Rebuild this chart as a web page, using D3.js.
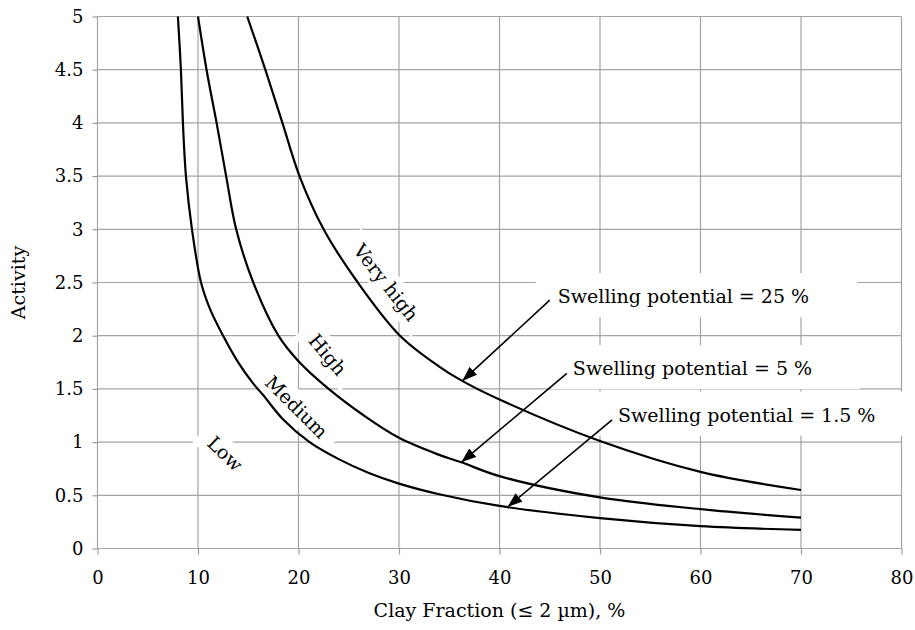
<!DOCTYPE html>
<html>
<head>
<meta charset="utf-8">
<script src="https://cdn.jsdelivr.net/npm/d3@7"></script>
<style>
  body { margin: 0; background: #fff; }
  svg text { font-family: "DejaVu Serif", serif; fill: #000; }
</style>
</head>
<body>
<div id="container"></div>
<script>
// axis ticks
const xTicks = [0, 10, 20, 30, 40, 50, 60, 70, 80];
const yTicks = [0, 0.5, 1, 1.5, 2, 2.5, 3, 3.5, 4, 4.5, 5];

// swelling potential = 1.5 % (low / medium boundary)
const clay15 = [8.0, 8.3, 8.5, 8.8, 9.4, 10.3, 11.2, 12.5, 14.0, 15.5, 16.5, 18.5, 21.1, 24.0, 27.0, 30.0, 34.0, 40.0, 50.0, 60.0, 70.0];
const act15 = [5.0, 4.5, 4.0, 3.5, 3.0, 2.5, 2.25, 2.0, 1.75, 1.55, 1.44, 1.21, 1.0, 0.84, 0.71, 0.61, 0.51, 0.40, 0.285, 0.21, 0.175];

// swelling potential = 5 % (medium / high boundary)
const clay5 = [10.0, 10.85, 11.85, 12.8, 13.8, 15.5, 18.0, 20.0, 23.0, 26.5, 30.0, 34.0, 36.2, 40.0, 50.0, 60.0, 70.0];
const act5 = [5.0, 4.5, 4.0, 3.5, 3.0, 2.5, 2.0, 1.76, 1.5, 1.25, 1.04, 0.88, 0.81, 0.68, 0.48, 0.37, 0.29];

// swelling potential = 25 % (high / very high boundary)
const clay25 = [14.9, 16.7, 18.4, 20.1, 22.5, 25.9, 30.1, 34.0, 36.2, 40.0, 50.0, 60.0, 70.0];
const act25 = [5.0, 4.5, 4.0, 3.5, 3.0, 2.5, 2.0, 1.71, 1.58, 1.40, 1.01, 0.72, 0.55];

// zone names and arrow labels
const zoneNames = ["Low", "Medium", "High", "Very high"];
const swellNames = ["Swelling potential = 25 %", "Swelling potential = 5 %", "Swelling potential = 1.5 %"];

const width = 915;
const height = 630;

const x = d3.scaleLinear().domain([0, 80]).range([97.5, 901.5]);
const y = d3.scaleLinear().domain([0, 5]).range([548.5, 16.5]);

const svg = d3.select("#container").
append("svg").
attr("width", width).
attr("height", height);

svg.append("defs").
append("marker").
attr("id", "head").
attr("markerUnits", "userSpaceOnUse").
attr("markerWidth", 15).
attr("markerHeight", 11).
attr("refX", 15).
attr("refY", 5.5).
attr("orient", "auto").
append("path").
attr("d", "M0,0 L15,5.5 L0,11 Z").
attr("fill", "#000");

// grid
let grid = svg.append("g").attr("stroke", "#a4a4a4").attr("stroke-width", 1.2);
grid.selectAll(".h").
data(yTicks).
enter().
append("line").
attr("x1", x(0)).
attr("x2", x(80)).
attr("y1", d => y(d)).
attr("y2", d => y(d));
grid.selectAll(".v").
data(xTicks).
enter().
append("line").
attr("x1", d => x(d)).
attr("x2", d => x(d)).
attr("y1", y(0)).
attr("y2", y(5));

// axes
let xAxis = d3.axisBottom(x).
tickValues(xTicks).
tickSize(6).
tickPadding(17).
tickFormat(d => String(d));
let gx = svg.append("g").
attr("transform", `translate(0,${y(0)})`).
call(xAxis);

let yAxis = d3.axisLeft(y).
tickValues(yTicks).
tickSize(5).
tickPadding(9).
tickFormat(d => String(d));
let gy = svg.append("g").
attr("transform", `translate(${x(0)},0)`).
call(yAxis);

[gx, gy].forEach(g => {
  g.select(".domain").remove();
  g.selectAll(".tick line").attr("stroke", "#999").attr("stroke-width", 1.2);
  g.selectAll(".tick text").
  style("font-family", "DejaVu Serif, serif").
  style("font-size", "18px").
  attr("fill", "#000");
});

svg.append("text").
attr("x", (x(0) + x(80)) / 2).
attr("y", 617).
attr("text-anchor", "middle").
style("font-size", "19px").
text("Clay Fraction (\u2264 2 \u00b5m), %");

svg.append("text").
attr("transform", `translate(25,${(y(0) + y(5)) / 2}) rotate(-90)`).
attr("text-anchor", "middle").
style("font-size", "19px").
text("Activity");

// layers: white label boxes under curves, text on top
let boxes = svg.append("g");
let curves = svg.append("g");
let labels = svg.append("g");

// zone labels, rotated along the curves
let zonePos = [
{ c: 12.7, a: 0.89, rot: 44 },
{ c: 19.8, a: 1.33, rot: 45 },
{ c: 22.9, a: 1.82, rot: 50 },
{ c: 28.7, a: 2.50, rot: 52 }];

zoneNames.forEach((name, i) => {
  let p = zonePos[i];
  let t = labels.append("text").
  attr("transform", `translate(${x(p.c)},${y(p.a)}) rotate(${p.rot})`).
  attr("text-anchor", "middle").
  attr("dy", "0.35em").
  style("font-size", "19px").
  text(name);
  let len = t.node().getComputedTextLength();
  boxes.append("rect").
  attr("transform", `translate(${x(p.c)},${y(p.a)}) rotate(${p.rot})`).
  attr("x", -len / 2 - 12).
  attr("y", -14).
  attr("width", len + 24).
  attr("height", 28).
  attr("fill", "#fff");
});

// arrow labels: text start, arrow start, arrow tip (data units)
let swellPos = [
{ tx: 45.8, ty: 2.306, sx: 45.0, sy: 2.334, ex: 36.3, ey: 1.575 },
{ tx: 47.3, ty: 1.630, sx: 46.7, sy: 1.646, ex: 36.2, ey: 0.81 },
{ tx: 51.8, ty: 1.192, sx: 51.2, sy: 1.208, ex: 40.8, ey: 0.39 }];

swellNames.forEach((name, i) => {
  let p = swellPos[i];
  let t = labels.append("text").
  attr("x", x(p.tx)).
  attr("y", y(p.ty)).
  style("font-size", "19px").
  text(name);
  let bb = t.node().getBBox();
  boxes.append("rect").
  attr("x", bb.x - 22).
  attr("y", bb.y - 12).
  attr("width", bb.width + 70).
  attr("height", bb.height + 22).
  attr("fill", "#fff");
  curves.append("line").
  attr("x1", x(p.sx)).
  attr("y1", y(p.sy)).
  attr("x2", x(p.ex)).
  attr("y2", y(p.ey)).
  attr("stroke", "#000").
  attr("stroke-width", 1.6).
  attr("marker-end", "url(#head)");
});

// boundary curves
let line = d3.line().
x(d => x(d[0])).
y(d => y(d[1])).
curve(d3.curveCatmullRom.alpha(0.5));

[[clay15, act15], [clay5, act5], [clay25, act25]].forEach(s => {
  curves.append("path").
  datum(d3.zip(s[0], s[1])).
  attr("d", line).
  attr("fill", "none").
  attr("stroke", "#000").
  attr("stroke-width", 2.2);
});
</script>
</body>
</html>
